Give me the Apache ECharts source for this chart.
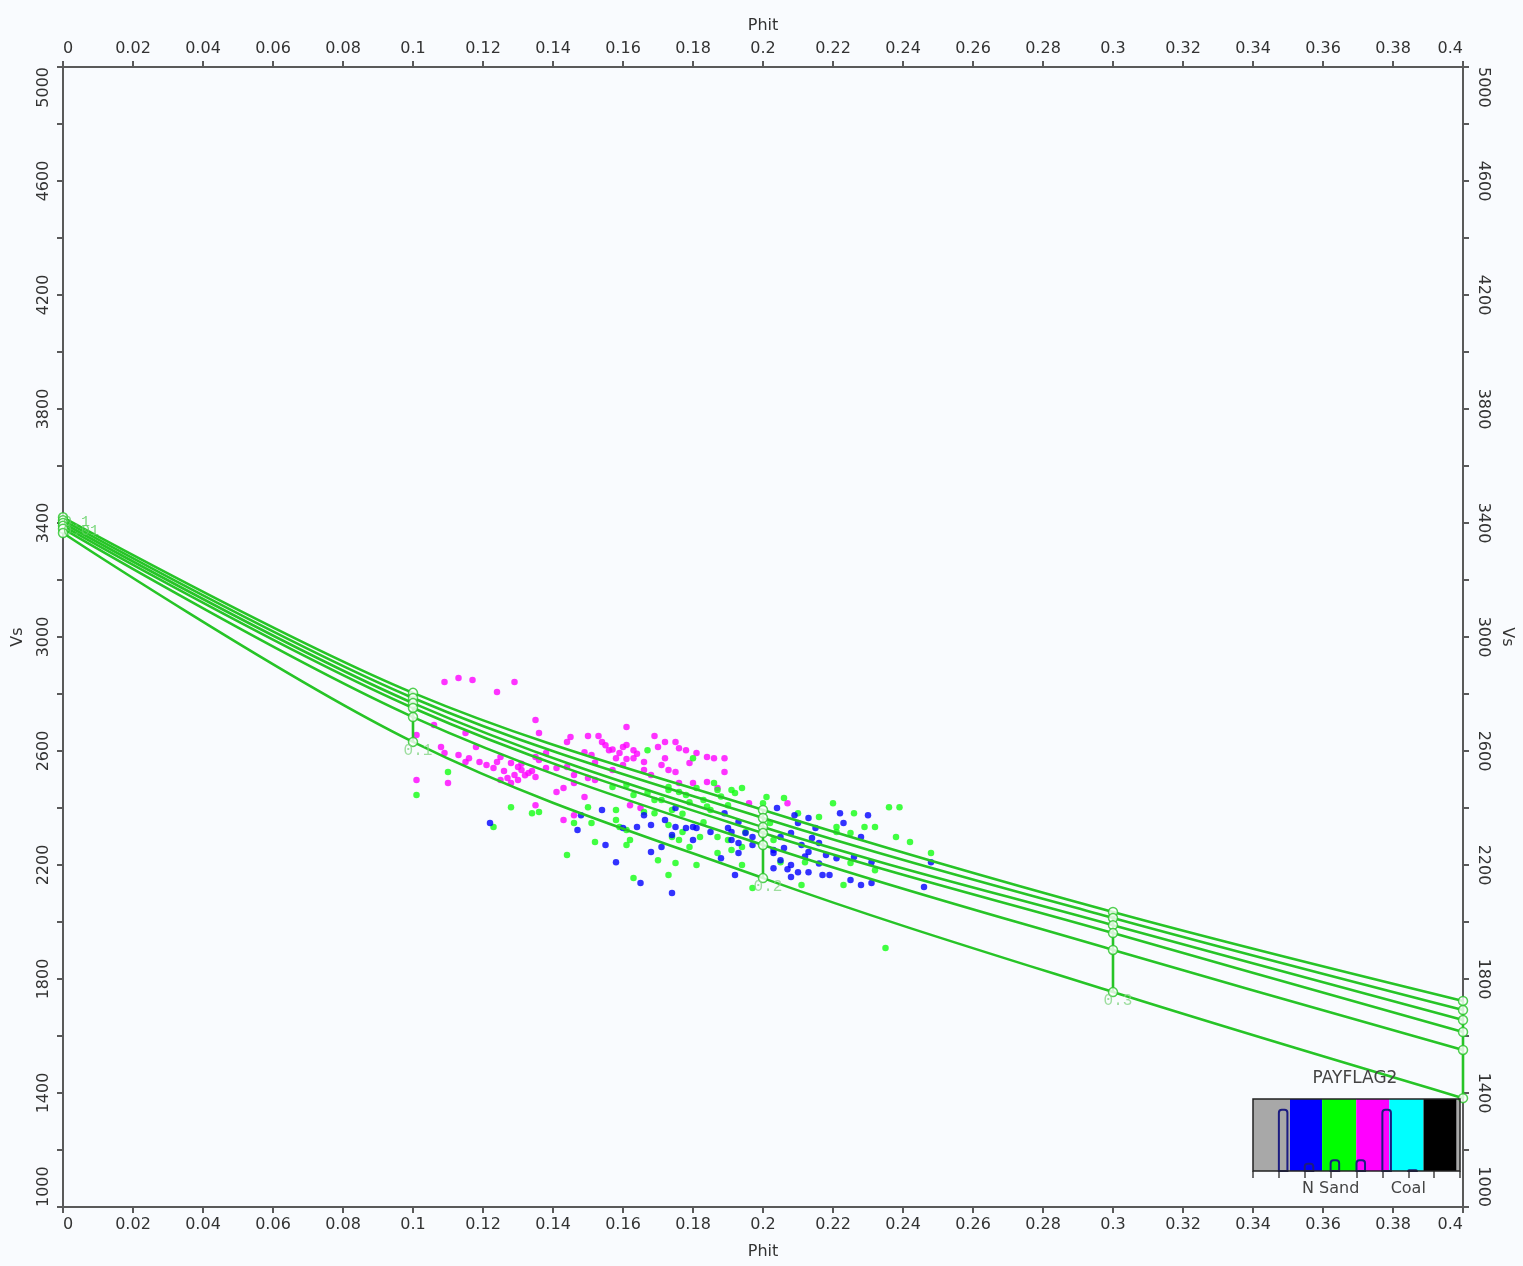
<!DOCTYPE html>
<html><head><meta charset="utf-8">
<script src="https://cdn.jsdelivr.net/npm/echarts@6/dist/echarts.min.js"></script>
<style>html,body{margin:0;padding:0;background:#f9fbfe;}#chart{width:1523px;height:1266px;}</style>
</head><body><div id="chart"></div>
<script>
// ---- DATA ----
const phiNodes = [0, 0.1, 0.2, 0.3, 0.4];
const curveA = [3420, 2804, 2393, 2035, 1723];
const curveB = [3410, 2786, 2365, 2014, 1691];
const curveC = [3400, 2768, 2333, 1989, 1656];
const curveD = [3390, 2751, 2312, 1961, 1614];
const curveE = [3380, 2719, 2270, 1902, 1551];
const curveF = [3365, 2632, 2154, 1754, 1382];
const nodeLabels = ['', '0.1', '0.2', '0.3', ''];
const startLabels = ['0.1', '0.01'];

const magentaPts = [
[0.109,2842],[0.113,2856],[0.117,2849],[0.129,2842],[0.124,2807],[0.135,2709],[0.106,2691],[0.115,2663],
[0.136,2663],[0.145,2649],[0.144,2632],[0.108,2614],[0.118,2614],[0.109,2593],[0.113,2586],[0.116,2575],
[0.125,2579],[0.124,2561],[0.119,2561],[0.115,2561],[0.121,2551],[0.123,2540],[0.128,2558],[0.130,2544],
[0.131,2533],[0.133,2523],[0.129,2516],[0.127,2505],[0.125,2498],[0.130,2498],[0.135,2509],[0.136,2568],
[0.138,2593],[0.135,2579],[0.138,2540],[0.141,2540],[0.144,2544],[0.146,2516],[0.101,2498],[0.110,2488],
[0.141,2456],[0.143,2470],[0.135,2410],[0.146,2375],[0.143,2358],[0.101,2656],[0.146,2488],
[0.161,2684],[0.150,2653],[0.153,2653],[0.154,2632],[0.156,2603],[0.160,2614],[0.161,2621],[0.163,2603],
[0.159,2593],[0.161,2572],[0.163,2575],[0.166,2561],[0.169,2653],[0.172,2632],[0.170,2614],[0.175,2632],
[0.176,2610],[0.178,2603],[0.181,2593],[0.172,2575],[0.173,2533],[0.175,2526],[0.171,2551],[0.179,2558],
[0.184,2579],[0.186,2575],[0.189,2575],[0.189,2526],[0.166,2533],[0.168,2516],[0.157,2533],[0.151,2586],
[0.149,2596],[0.152,2498],[0.150,2505],[0.149,2439],[0.176,2488],[0.180,2488],[0.184,2491],[0.187,2470],
[0.162,2410],[0.165,2400],[0.196,2417],[0.160,2551],[0.207,2417],
[0.126,2530],[0.132,2515],[0.128,2488],[0.134,2530],[0.131,2555],
[0.155,2620],[0.158,2575],[0.164,2590],[0.152,2560],[0.157,2605]
];
const greenPts = [
[0.110,2526],[0.101,2446],[0.128,2403],[0.134,2382],[0.136,2386],[0.123,2333],[0.146,2347],[0.144,2235],
[0.167,2603],[0.180,2575],[0.157,2474],[0.161,2481],[0.150,2403],[0.158,2393],[0.158,2358],[0.159,2333],
[0.151,2347],[0.163,2446],[0.167,2453],[0.169,2428],[0.171,2428],[0.173,2474],[0.173,2463],[0.176,2456],
[0.178,2446],[0.181,2470],[0.183,2428],[0.186,2488],[0.187,2463],[0.191,2463],[0.194,2470],[0.192,2453],
[0.169,2382],[0.173,2340],[0.174,2298],[0.177,2316],[0.176,2288],[0.179,2263],[0.182,2298],[0.187,2298],
[0.190,2288],[0.191,2253],[0.194,2263],[0.187,2242],[0.161,2270],[0.162,2288],[0.152,2281],[0.170,2217],
[0.175,2207],[0.181,2200],[0.194,2200],[0.173,2165],[0.163,2154],[0.197,2119],[0.174,2393],[0.185,2393],
[0.166,2386],[0.195,2316],[0.161,2323],
[0.201,2439],[0.206,2435],[0.220,2417],[0.210,2382],[0.216,2368],[0.226,2382],[0.236,2403],[0.239,2403],
[0.221,2333],[0.221,2316],[0.225,2312],[0.229,2333],[0.232,2333],[0.238,2298],[0.242,2281],[0.248,2242],
[0.203,2288],[0.205,2210],[0.212,2210],[0.225,2207],[0.232,2182],[0.211,2130],[0.223,2130],[0.235,1909],
[0.200,2417],[0.202,2347],
[0.179,2420],[0.184,2405],[0.188,2440],[0.177,2380],[0.190,2410],[0.183,2350]
];
const bluePts = [
[0.122,2347],[0.147,2323],
[0.154,2393],[0.148,2375],[0.166,2375],[0.164,2333],[0.168,2340],[0.172,2358],[0.175,2400],[0.175,2333],
[0.178,2330],[0.180,2333],[0.181,2330],[0.185,2316],[0.189,2382],[0.190,2330],[0.191,2316],[0.193,2351],
[0.195,2312],[0.197,2298],[0.180,2288],[0.191,2288],[0.193,2277],[0.197,2270],[0.174,2305],[0.155,2270],
[0.171,2263],[0.168,2246],[0.158,2210],[0.188,2224],[0.193,2242],[0.192,2165],[0.165,2137],[0.174,2102],
[0.160,2330],
[0.204,2400],[0.209,2375],[0.213,2365],[0.222,2382],[0.230,2375],[0.223,2347],[0.215,2330],[0.205,2298],
[0.208,2312],[0.211,2270],[0.213,2246],[0.216,2277],[0.218,2235],[0.221,2224],[0.226,2228],[0.228,2298],
[0.231,2210],[0.203,2242],[0.205,2217],[0.203,2189],[0.208,2200],[0.210,2175],[0.208,2158],[0.213,2175],
[0.217,2165],[0.219,2165],[0.225,2147],[0.228,2130],[0.231,2137],[0.246,2123],[0.248,2210],[0.203,2253],
[0.214,2295],[0.210,2347],
[0.206,2260],[0.212,2230],[0.207,2185],[0.216,2205]
];

// PAYFLAG2 legend histogram
const payBandEdges = [0, 1.43, 2.67, 3.99, 5.27, 6.59, 7.87, 8];
const payBandColors = ['#a8a8a8', '#0000ff', '#00ff00', '#ff00ff', '#00ffff', '#000000', '#a8a8a8'];
const histBins = [1, 2, 3, 4, 5, 6];
const histCounts = [85, 10, 15, 15, 85, 1];
const payTickNames = {3: 'N Sand', 6: 'Coal'};

// ---- STYLE ----
const LINE_GREEN = '#27c427';
const FONT = 'DejaVu Sans';
const TXT = '#333';
const AX = '#5a5a5a';

const curves = [curveA, curveB, curveC, curveD, curveE, curveF];

const chart = echarts.init(document.getElementById('chart'));

function xAxisDef(pos) {
  return {
    type: 'value', gridIndex: 0, position: pos, min: 0, max: 0.4, interval: 0.02,
    name: 'Phit', nameLocation: 'middle', nameGap: pos === 'top' ? 33 : 37,
    nameTextStyle: {fontFamily: FONT, fontSize: 16, color: TXT},
    axisLine: {show: true, onZero: false, lineStyle: {color: AX, width: 2}},
    axisTick: {show: true, length: 6, lineStyle: {color: AX, width: 2}},
    axisLabel: {fontFamily: FONT, fontSize: 16, color: TXT, margin: 10,
      formatter: v => String(+v.toFixed(2)), alignMinLabel: 'left', alignMaxLabel: 'right'},
    splitLine: {show: false}
  };
}
function yAxisDef(pos) {
  const left = pos === 'left';
  return {
    type: 'value', gridIndex: 0, position: pos, min: 1000, max: 5000, interval: 200,
    name: 'Vs', nameLocation: 'middle', nameGap: left ? 37 : 34, nameRotate: left ? 90 : -90,
    nameTextStyle: {fontFamily: FONT, fontSize: 16, color: TXT},
    axisLine: {show: true, onZero: false, lineStyle: {color: AX, width: 2}},
    axisTick: {show: true, length: 6, lineStyle: {color: AX, width: 2}},
    axisLabel: {fontFamily: FONT, fontSize: 16, color: TXT, margin: left ? 11 : 12, rotate: left ? 90 : -90,
      formatter: v => ((v - 1000) % 400 === 0 ? String(v) : ''),
      alignMinLabel: left ? 'left' : 'right', alignMaxLabel: left ? 'right' : 'left'},
    splitLine: {show: false}
  };
}

const series = [];
series.push({type: 'scatter', name: 'mag', data: magentaPts, symbolSize: 6.5, itemStyle: {color: '#ff00ff'}, z: 2});
series.push({type: 'scatter', name: 'grn', data: greenPts, symbolSize: 6.5, itemStyle: {color: '#11ff11'}, z: 2});
series.push({type: 'scatter', name: 'blu', data: bluePts, symbolSize: 6.5, itemStyle: {color: '#0000ff'}, z: 2});

curves.forEach(c => {
  series.push({type: 'line', data: phiNodes.map((p, i) => [p, c[i]]), smooth: 0.35, showSymbol: false,
    lineStyle: {color: LINE_GREEN, width: 2.6}, z: 3, silent: true});
});
phiNodes.forEach((p, i) => {
  const col = curves.map(c => [p, c[i]]);
  series.push({type: 'line', data: col, showSymbol: false, lineStyle: {color: LINE_GREEN, width: 2.6}, z: 3, silent: true});
});
const nodePts = [];
curves.forEach(c => phiNodes.forEach((p, i) => nodePts.push([p, c[i]])));
series.push({type: 'scatter', data: nodePts, symbol: 'circle', symbolSize: 9,
  itemStyle: {color: '#ffffff', borderColor: LINE_GREEN, borderWidth: 1.5}, z: 4});
series.push({type: 'scatter', data: phiNodes.map((p, i) => [p, curveF[i], nodeLabels[i]]), symbolSize: 0, z: 5,
  label: {show: true, position: 'bottom', distance: 1, offset: [5, 0], formatter: d => d.value[2],
    fontFamily: 'Liberation Mono', fontSize: 16, color: '#86d686'}});
series.push({type: 'scatter', data: [[0, curveB[0], startLabels[0]], [0, curveE[0], startLabels[1]]], symbolSize: 0, z: 5,
  label: {show: true, position: 'right', distance: 0, offset: [0, 2], formatter: d => d.value[2],
    fontFamily: 'Liberation Mono', fontSize: 15, color: '#5fd05f'}});

// Legend histogram
series.push({type: 'custom', xAxisIndex: 2, yAxisIndex: 2, z: 1, silent: true,
  data: payBandColors.map((c, i) => [payBandEdges[i], payBandEdges[i + 1], i]),
  renderItem: (params, api) => {
    const p0 = api.coord([api.value(0), 100]);
    const p1 = api.coord([api.value(1), 0]);
    return {type: 'rect', shape: {x: p0[0], y: p0[1], width: p1[0] - p0[0], height: p1[1] - p0[1]},
      style: {fill: payBandColors[api.value(2)]}};
  }});
series.push({type: 'custom', xAxisIndex: 2, yAxisIndex: 2, z: 2, silent: true,
  data: histBins.map((b, i) => [b, histCounts[i]]),
  renderItem: (params, api) => {
    const p0 = api.coord([api.value(0), api.value(1)]);
    const p1 = api.coord([api.value(0) + 0.33, 0]);
    return {type: 'rect', shape: {x: p0[0], y: p0[1], width: p1[0] - p0[0], height: p1[1] - p0[1], r: [3, 3, 0, 0]},
      style: {fill: 'none', stroke: '#1c1c80', lineWidth: 2}};
  }});

chart.setOption({
  backgroundColor: '#f9fbfe',
  animation: false,
  grid: [
    {left: 63, top: 67, width: 1400, height: 1140, show: false},
    {left: 1253, top: 1099, width: 207, height: 72, show: true, borderColor: '#222', borderWidth: 1.5, backgroundColor: 'transparent', z: 10}
  ],
  xAxis: [xAxisDef('top'), xAxisDef('bottom'),
    {type: 'value', gridIndex: 1, min: 0, max: 8, interval: 1, position: 'bottom',
      axisLine: {show: false}, axisTick: {show: true, length: 7, lineStyle: {color: '#444', width: 1.5}},
      axisLabel: {fontFamily: FONT, fontSize: 16, color: '#444', margin: 10, formatter: v => payTickNames[v] || ''},
      splitLine: {show: false}}],
  yAxis: [yAxisDef('left'), yAxisDef('right'),
    {type: 'value', gridIndex: 1, min: 0, max: 100, show: false}],
  graphic: [{type: 'text', x: 1355, y: 1079, z: 20,
    style: {text: 'PAYFLAG2', fontFamily: FONT, fontSize: 17, fill: '#444', textAlign: 'center', textVerticalAlign: 'middle'}}],
  series: series
});
</script></body></html>
